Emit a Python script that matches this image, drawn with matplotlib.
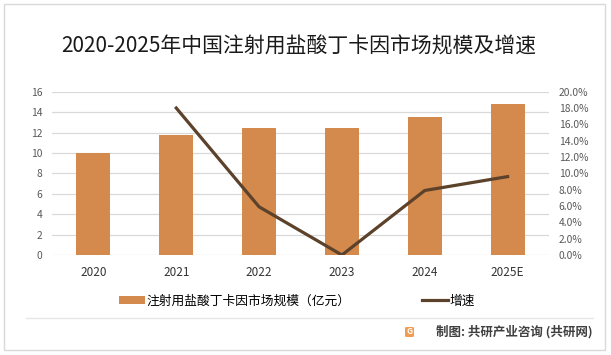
import numpy as np
import matplotlib
matplotlib.use("Agg")
import matplotlib.pyplot as plt
from matplotlib.patches import Rectangle, FancyBboxPatch
from matplotlib.lines import Line2D

plt.rcParams['font.family'] = ['Noto Sans CJK SC', 'DejaVu Sans']

years = ["2020", "2021", "2022", "2023", "2024", "2025E"]
market_size = [10.0, 11.75, 12.45, 12.45, 13.5, 14.8]      # 亿元
growth = [np.nan, 18.0, 5.9, 0.0, 7.9, 9.6]                 # %

title = "2020-2025年中国注射用盐酸丁卡因市场规模及增速"
bar_label = "注射用盐酸丁卡因市场规模（亿元）"
line_label = "增速"
source = "制图: 共研产业咨询 (共研网)"

bar_color = "#D48A4C"
line_color = "#5C412B"

W, H = 611, 355
fig = plt.figure(figsize=(W/100, H/100), dpi=100)

def fx(px): return px/W
def fy(py): return 1 - py/H

# 外枠
fig.patches.append(Rectangle((fx(4), fy(350)), fx(601), 346/H, transform=fig.transFigure,
                             fill=False, edgecolor="#D9D9D9", lw=1.0))

ax = fig.add_axes([fx(52), fy(255), fx(549)-fx(52), fy(91.7)-fy(255)])
x = np.arange(len(years))
bars = ax.bar(x, market_size, width=0.41, color=bar_color, zorder=2, label=bar_label)
ax.set_xlim(-0.5, len(years)-0.5)
ax.set_ylim(0, 16)
ax.set_yticks(np.arange(0, 17, 2))
ax.set_xticks(x)
ax.set_xticklabels(years)
ax.grid(axis="y", color="#D9D9D9", lw=0.9, zorder=0)
ax.set_axisbelow(True)
for s in ax.spines.values():
    s.set_visible(False)
ax.tick_params(axis="y", length=0, pad=7, labelsize=7.4, labelcolor="#595959")
ax.tick_params(axis="x", length=0, pad=8, labelsize=8.5, labelcolor="#333333")

ax2 = ax.twinx()
line, = ax2.plot(x, growth, color=line_color, lw=2.3, zorder=3, label=line_label)
ax2.set_ylim(0, 20)
ax2.set_yticks(np.arange(0, 21, 2))
ax2.set_yticklabels([f"{v:.1f}%" for v in np.arange(0, 21, 2)])
for s in ax2.spines.values():
    s.set_visible(False)
ax2.tick_params(axis="y", length=0, pad=7, labelsize=7.4, labelcolor="#595959")

fig.text(fx(298.5), fy(47), title, ha="center", va="center", fontsize=15,
         fontweight="light", color="#1a1a1a")

fig.legend(handles=[bars, line], labels=[bar_label, line_label], loc="center",
           bbox_to_anchor=(fx(297), fy(301)), ncol=2, frameon=False, fontsize=9.2,
           handlelength=2.0, handleheight=0.5, handletextpad=0.15, columnspacing=5.6)

# 区切り線
fig.lines.append(Line2D([fx(26), fx(593)], [fy(318), fy(318)], transform=fig.transFigure,
                        color="#E6E6E6", lw=1.0))

# 出典
fig.patches.append(FancyBboxPatch((fx(405), fy(337)), fx(9), 10/H, transform=fig.transFigure,
                                  boxstyle="round,pad=0,rounding_size=0.003",
                                  facecolor="#F29B52", edgecolor="none"))
fig.text(fx(409.5), fy(332), "G", ha="center", va="center", fontsize=6, color="white",
         fontweight="bold")
fig.text(fx(593), fy(332), source, ha="right", va="center", fontsize=9, color="#404040",
         fontweight="bold")

fig.savefig("out.png", dpi=100)
